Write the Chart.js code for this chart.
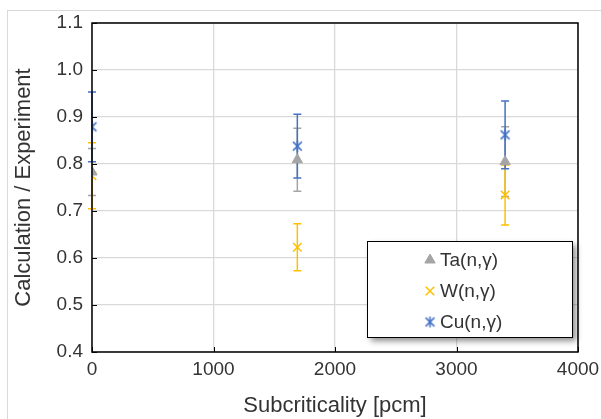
<!DOCTYPE html>
<html>
<head>
<meta charset="utf-8">
<script src="https://cdn.jsdelivr.net/npm/chart.js@4/dist/chart.umd.min.js"></script>
<style>
  html, body { margin: 0; padding: 0; background: #fff; }
  #wrap { position: relative; width: 601px; height: 419px; overflow: hidden; }
  #frame { position: absolute; left: 7px; top: 10px; width: 600px; height: 420px;
           border: 1px solid #d9d9d9; box-sizing: border-box; pointer-events: none; }
</style>
</head>
<body>
<div id="wrap">
  <canvas id="chart" width="601" height="419"></canvas>
  <div id="frame"></div>
</div>
<script>
// Subcriticality [pcm] for each measurement
const subcrit = [0, 1690, 3400];

// C/E values and their error bars
const taValues = [0.783, 0.809, 0.805];
const taErrors = [0.05, 0.067, 0.074];
const wValues = [0.775, 0.623, 0.734];
const wErrors = [0.07, 0.05, 0.064];
const cuValues = [0.879, 0.838, 0.862];
const cuErrors = [0.074, 0.068, 0.072];

const seriesNames = ['Ta(n,γ)', 'W(n,γ)', 'Cu(n,γ)'];
const colors = ['#a5a5a5', '#ffc000', '#4472c4'];

const xTicks = [0, 1000, 2000, 3000, 4000];
const yTicks = [0.4, 0.5, 0.6, 0.7, 0.8, 0.9, 1.0, 1.1];

const FONT = 'Liberation Sans, Arial, sans-serif';
const TEXT = '#333333';

// Excel-like star marker: X with a vertical stroke
function starMarker(color, size) {
    const c = document.createElement('canvas');
    c.width = size; c.height = size;
    const g = c.getContext('2d');
    const h = size / 2, r = size / 2 - 1;
    g.strokeStyle = color;
    g.lineWidth = 1.5;
    g.beginPath();
    g.moveTo(h - r * 0.8, h - r * 0.8); g.lineTo(h + r * 0.8, h + r * 0.8);
    g.moveTo(h + r * 0.8, h - r * 0.8); g.lineTo(h - r * 0.8, h + r * 0.8);
    g.moveTo(h, h - r); g.lineTo(h, h + r);
    g.stroke();
    return c;
}
const cuStar = starMarker(colors[2], 13);

function toPoints(xs, ys) {
    return xs.map((x, i) => ({ x: x, y: ys[i] }));
}

const errorSets = [taErrors, wErrors, cuErrors];

// error bars drawn under the markers
const errorBars = {
    id: 'errorBars',
    beforeDatasetsDraw(chart) {
        const ctx = chart.ctx;
        const xs = chart.scales.x, ys = chart.scales.y;
        ctx.save();
        chart.data.datasets.forEach((ds, i) => {
            const errs = errorSets[i];
            ctx.strokeStyle = colors[i];
            ctx.lineWidth = 1.5;
            ds.data.forEach((p, j) => {
                const px = xs.getPixelForValue(p.x);
                const top = ys.getPixelForValue(p.y + errs[j]);
                const bot = ys.getPixelForValue(p.y - errs[j]);
                ctx.beginPath();
                ctx.moveTo(px, top); ctx.lineTo(px, bot);
                ctx.moveTo(px - 4, top); ctx.lineTo(px + 4, top);
                ctx.moveTo(px - 4, bot); ctx.lineTo(px + 4, bot);
                ctx.stroke();
            });
        });
        ctx.restore();
    }
};

// plot frame, inside tick marks and the boxed legend
const frameAndLegend = {
    id: 'frameAndLegend',
    afterDraw(chart) {
        const ctx = chart.ctx;
        const a = chart.chartArea;
        const xs = chart.scales.x, ys = chart.scales.y;
        ctx.save();
        ctx.strokeStyle = '#000';
        ctx.lineWidth = 1.5;
        ctx.strokeRect(a.left, a.top, a.right - a.left, a.bottom - a.top);
        ctx.beginPath();
        yTicks.forEach(v => {
            const py = Math.round(ys.getPixelForValue(v)) + 0.5;
            ctx.moveTo(a.left, py); ctx.lineTo(a.left + 5, py);
        });
        xTicks.forEach(v => {
            const px = Math.round(xs.getPixelForValue(v)) + 0.5;
            ctx.moveTo(px, a.bottom); ctx.lineTo(px, a.bottom - 5);
        });
        ctx.lineWidth = 1;
        ctx.stroke();

        // legend box
        const lx = 367, ly = 241, lw = 205, lh = 96;
        ctx.shadowColor = 'rgba(0,0,0,0.45)';
        ctx.shadowBlur = 6;
        ctx.shadowOffsetX = 4;
        ctx.shadowOffsetY = 4;
        ctx.fillStyle = '#fff';
        ctx.fillRect(lx, ly, lw, lh);
        ctx.shadowColor = 'transparent';
        ctx.strokeStyle = '#000';
        ctx.lineWidth = 1;
        ctx.strokeRect(lx + 0.5, ly + 0.5, lw, lh);

        ctx.font = '19px ' + FONT;
        ctx.textBaseline = 'middle';
        chart.data.datasets.forEach((ds, i) => {
            const cy = ly + 19 + i * 31;
            ctx.fillStyle = colors[i];
            ctx.strokeStyle = colors[i];
            ctx.lineWidth = ds.borderWidth;
            Chart.helpers.drawPoint(ctx, {
                pointStyle: ds.pointStyle,
                radius: ds.pointRadius,
                borderWidth: ds.borderWidth
            }, 430, cy);
            ctx.fillStyle = TEXT;
            ctx.fillText(seriesNames[i], 440, cy + 1);
        });
        ctx.restore();
    }
};

const config = {
    type: 'scatter',
    data: {
        datasets: [
            {
                label: seriesNames[0],
                data: toPoints(subcrit, taValues),
                pointStyle: 'triangle',
                pointRadius: 6,
                backgroundColor: colors[0],
                borderColor: colors[0],
                borderWidth: 1
            },
            {
                label: seriesNames[1],
                data: toPoints(subcrit, wValues),
                pointStyle: 'crossRot',
                pointRadius: 6,
                backgroundColor: colors[1],
                borderColor: colors[1],
                borderWidth: 1.5
            },
            {
                label: seriesNames[2],
                data: toPoints(subcrit, cuValues),
                pointStyle: cuStar,
                pointRadius: 6,
                backgroundColor: colors[2],
                borderColor: colors[2],
                borderWidth: 1.5
            }
        ]
    },
    options: {
        responsive: false,
        animation: false,
        layout: { padding: { top: 23, right: 23, left: 0, bottom: 0 } },
        plugins: {
            legend: { display: false },
            tooltip: { enabled: false }
        },
        scales: {
            x: {
                type: 'linear',
                min: 0, max: 4000,
                afterBuildTicks: s => { s.ticks = xTicks.map(v => ({ value: v })); },
                afterFit: s => { s.height = 67; s.paddingRight = 0; s.paddingLeft = 0; },
                grid: { color: '#d9d9d9', lineWidth: 1.3, drawTicks: false },
                border: { display: false },
                ticks: {
                    color: TEXT, font: { family: FONT, size: 19 }, padding: 6,
                    maxRotation: 0, callback: v => String(v)
                },
                title: {
                    display: true, text: 'Subcriticality [pcm]',
                    color: TEXT, font: { family: FONT, size: 22 }, padding: { top: 0, bottom: 0 }
                }
            },
            y: {
                type: 'linear',
                min: 0.4, max: 1.1,
                afterBuildTicks: s => { s.ticks = yTicks.map(v => ({ value: v })); },
                afterFit: s => { s.width = 92; s.paddingTop = 0; s.paddingBottom = 0; },
                grid: { color: '#d9d9d9', lineWidth: 1.3, drawTicks: false },
                border: { display: false },
                ticks: {
                    color: TEXT, font: { family: FONT, size: 19 }, padding: 9,
                    callback: v => v.toFixed(1)
                },
                title: {
                    display: true, text: 'Calculation / Experiment',
                    color: TEXT, font: { family: FONT, size: 22 }, padding: { top: 11, bottom: 0 }
                }
            }
        }
    },
    plugins: [errorBars, frameAndLegend]
};

window.onload = function () {
    const ctx = document.getElementById('chart').getContext('2d');
    new Chart(ctx, config);
};
</script>
</body>
</html>
